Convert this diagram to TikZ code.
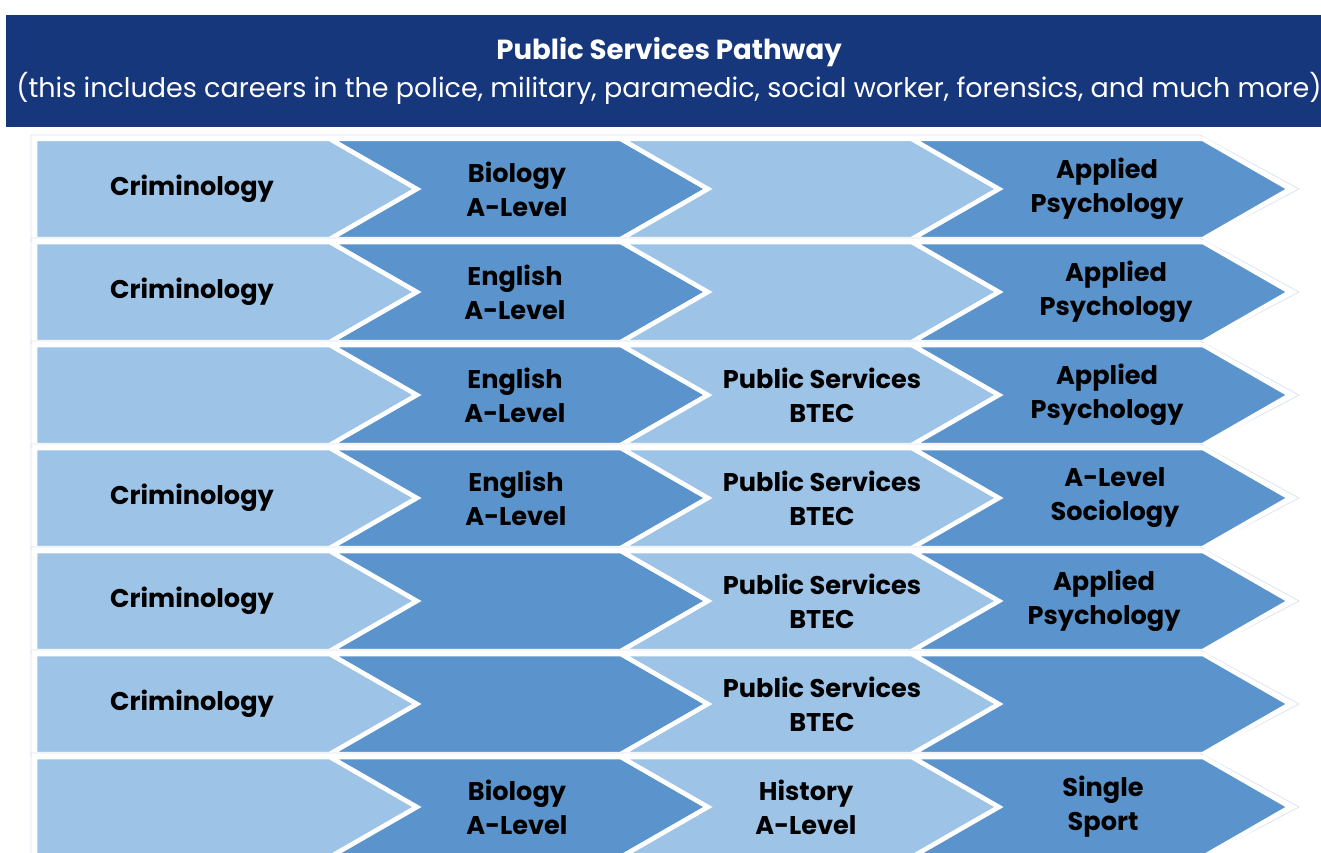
\documentclass[tikz,border=0pt]{standalone}
\usepackage{fontspec}
\setmainfont{Poppins}
\definecolor{hdr}{HTML}{17377C}
\definecolor{lite}{HTML}{9DC3E6}
\definecolor{mid}{HTML}{5B94CD}
\definecolor{faint}{HTML}{DCE4F2}
\begin{document}
\begin{tikzpicture}[x=1pt, y=-1pt, line join=miter,
	chev/.style={draw=white, line width=4.5pt},
	rowline/.style={draw=faint, line width=0.8pt},
	lbl/.style={font=\bfseries\fontsize{25.6}{34}\selectfont, align=center, text=black},
	]
	\useasboundingbox (0,0) rectangle (1321,853);
	\clip (0,0) rectangle (1321,853);
	
	% header
	\fill[hdr] (6,15) rectangle (1321,127);
	\node[text=white, font=\bfseries\fontsize{27.6}{30}\selectfont] (title) at (669,52) {Public Services Pathway};
	\node[text=white, font=\fontsize{27}{30}\selectfont] (subtitle) at (669,88) {(this includes careers in the police, military, paramedic, social worker, forensics, and much more)};
	
	% rows of chevrons
	\foreach \r in {0,...,6}{
		\pgfmathsetmacro\yt{139+103*\r}
		\pgfmathsetmacro\yb{\yt+100}
		\pgfmathsetmacro\ym{\yt+50}
		\draw[rowline] (31,\yt-4)--(1200,\yt-4)--(1299,\ym)--(1200,\yb+2)--(31,\yb+2)--cycle;
		\foreach \k/\c in {0/lite,1/mid,2/lite,3/mid}{
			\pgfmathsetmacro\xr{417+291*\k}
			\pgfmathsetmacro\xa{\xr-87}
			\pgfmathsetmacro\xl{\xr-291}
			\pgfmathsetmacro\xq{\xl-87}
			\ifnum\k=0
				\filldraw[chev, fill=\c] (35,\yt)--(\xa,\yt)--(\xr,\ym)--(\xa,\yb)--(35,\yb)--cycle;
			\else
				\filldraw[chev, fill=\c] (\xq,\yt)--(\xa,\yt)--(\xr,\ym)--(\xa,\yb)--(\xq,\yb)--(\xl,\ym)--cycle;
			\fi
		}
	}
	
	% labels: row/column/x/text
	\foreach \r/\k/\xc/\s in {
		0/0/192/Criminology, 0/1/517/{Biology\\A-Level}, 0/3/1107/{Applied\\Psychology},
		1/0/192/Criminology, 1/1/515/{English\\A-Level}, 1/3/1116/{Applied\\Psychology},
		2/1/515/{English\\A-Level}, 2/2/822/{Public Services\\BTEC}, 2/3/1107/{Applied\\Psychology},
		3/0/192/Criminology, 3/1/516/{English\\A-Level}, 3/2/822/{Public Services\\BTEC}, 3/3/1115/{A-Level\\Sociology},
		4/0/192/Criminology, 4/2/822/{Public Services\\BTEC}, 4/3/1104/{Applied\\Psychology},
		5/0/192/Criminology, 5/2/822/{Public Services\\BTEC},
		6/1/517/{Biology\\A-Level}, 6/2/806/{History\\A-Level}, 6/3/1103/{Single\\Sport}}
	{
		\pgfmathsetmacro\yc{189+103*\r}
		\node[lbl] (t-\r-\k) at (\xc,\yc) {\s};
	}
\end{tikzpicture}
\end{document}
